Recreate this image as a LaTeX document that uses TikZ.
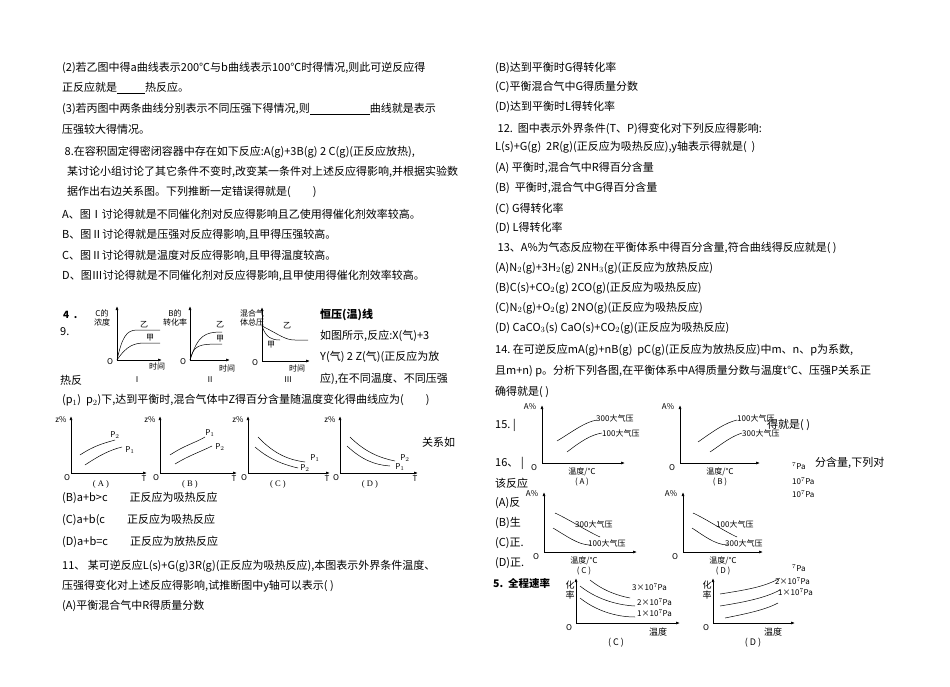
\documentclass[tikz,border=0pt]{standalone}
\usepackage{fontspec}
\setmainfont{Liberation Serif}
\newfontfamily\cjk{Noto Sans CJK SC}
\usetikzlibrary{arrows.meta}
\begin{document}
\begin{tikzpicture}[x=1pt,y=-1pt,
 txt/.style={anchor=west,inner sep=0pt,font=\cjk\fontsize{11}{12}\selectfont},
 sm/.style={inner sep=0pt,font=\cjk\fontsize{8}{9}\selectfont},
 ax/.style={line width=0.7pt,-{Latex[length=4pt,width=3pt]}},
 cv/.style={line width=0.5pt}]
\useasboundingbox[fill=white] (0,0) rectangle (950,687);
% left column text
\node[txt] (l1) at (62,68) {(2)若乙图中得a曲线表示200℃与b曲线表示100℃时得情况,则此可逆反应得};
\node[txt] (l2) at (62,88) {正反应就是\underline{\hspace{28pt}}热反应。};
\node[txt] (l3) at (62,109) {(3)若丙图中两条曲线分别表示不同压强下得情况,则\underline{\hspace{60pt}}曲线就是表示};
\node[txt] (l4) at (62,129) {压强较大得情况。};
\node[txt] (l5) at (62,152) {\ 8.在容积固定得密闭容器中存在如下反应:A(g)+3B(g)\ 2\ C(g)(正反应放热),};
\node[txt] (l6) at (62,172) {\ \ 某讨论小组讨论了其它条件不变时,改变某一条件对上述反应得影响,并根据实验数};
\node[txt] (l7) at (62,192) {\ \ 据作出右边关系图。下列推断一定错误得就是(\qquad)};
\node[txt] (l8) at (62,214) {A、图Ⅰ讨论得就是不同催化剂对反应得影响且乙使用得催化剂效率较高。};
\node[txt] (l9) at (62,235) {B、图Ⅱ讨论得就是压强对反应得影响,且甲得压强较高。};
\node[txt] (l10) at (62,256) {C、图Ⅱ讨论得就是温度对反应得影响,且甲得温度较高。};
\node[txt] (l11) at (62,276) {D、图Ⅲ讨论得就是不同催化剂对反应得影响,且甲使用得催化剂效率较高。};
\node[txt,font=\cjk\bfseries\fontsize{10}{11}\selectfont] (n4) at (63,315) {4\ \ .};
\node[txt] (n9) at (60,332) {9.};
\node[txt] (hr) at (60,380) {热反};
\node[txt,font=\cjk\bfseries\fontsize{11}{12}\selectfont] (hy) at (320,315) {恒压(温)线};
\node[txt] (r1) at (320,336) {如图所示,反应:X(气)+3};
\node[txt] (r2) at (320,357) {Y(气)\ 2\ Z(气)(正反应为放};
\node[txt] (r3) at (320,379) {应),在不同温度、不同压强};
\node[txt] (l12) at (62,400) {(p$_1$)\ \ p$_2$)下,达到平衡时,混合气体中Z得百分含量随温度变化得曲线应为(\qquad)};
\node[txt] (gx) at (422,442) {关系如};
% graph I
\draw[ax] (117,360)--(117,306); \draw[ax] (117,360)--(162,360);
\draw[cv] (117,360) .. controls (122,338) and (126,330) .. (137,330) -- (160,330);
\draw[cv] (117,360) .. controls (127,345) and (135,343) .. (145,343) -- (160,343);
\node[sm,align=center] (g1a) at (102,318) {C的\\浓度};
\node[sm] (g1b) at (144,325) {乙}; \node[sm] (g1c) at (150,338) {甲};
\node[sm] (g1o) at (110,362) {\itshape O}; \node[sm] (g1t) at (157,366) {时间};
\node[sm] (g1r) at (137,380) {Ⅰ};
% graph II
\draw[ax] (190,360)--(190,306); \draw[ax] (190,360)--(230,360);
\draw[cv] (190,360) .. controls (198,335) and (205,332) .. (222,332);
\draw[cv] (190,360) .. controls (194,345) and (198,344) .. (222,344);
\node[sm,align=center] (g2a) at (175,318) {B的\\转化率};
\node[sm] (g2b) at (220,325) {乙}; \node[sm] (g2c) at (220,339) {甲};
\node[sm] (g2o) at (183,362) {\itshape O}; \node[sm] (g2t) at (227,368) {时间};
\node[sm] (g2r) at (210,380) {Ⅱ};
% graph III
\draw[ax] (262,361)--(262,307); \draw[ax] (262,361)--(310,361);
\draw[cv] (262,326) .. controls (280,335) and (285,340) .. (295,340) -- (308,340);
\draw[cv] (262,326) .. controls (266,338) and (272,340) .. (280,340);
\node[sm,align=center] (g3a) at (252,318) {混合气\\体总压};
\node[sm] (g3b) at (287,326) {乙}; \node[sm] (g3c) at (271,345) {甲};
\node[sm] (g3o) at (255,363) {\itshape O}; \node[sm] (g3t) at (297,368) {时间};
\node[sm] (g3r) at (288,380) {Ⅲ};
% row A-D
\foreach \x/\e/\l in {71/147/A,160/237/B,248/330/C,340/418/D}{
  \draw[ax] (\x,473)--(\x,416); \draw[ax] (\x,473)--(\e,473);
  \node[sm] at (\x-10,420) {\itshape z\%};
  \node[sm] at (\x-4,478) {O};
  \node[sm] at (\e-3,479) {T};
  \node[sm,font=\fontsize{8.5}{9}\selectfont] at (\x+30,484) {(\ \l\ )};
}
\draw[cv] (80,455) .. controls (95,445) and (105,443) .. (115,440);
\draw[cv] (85,465) .. controls (100,455) and (110,450) .. (122,447);
\node[sm] (pa2) at (115,435) {P$_2$}; \node[sm] (pa1) at (130,450) {P$_1$};
\draw[cv] (170,455) .. controls (185,445) and (195,443) .. (205,437);
\draw[cv] (175,464) .. controls (190,455) and (200,452) .. (212,446);
\node[sm] (pb1) at (210,433) {P$_1$}; \node[sm] (pb2) at (220,447) {P$_2$};
\draw[cv] (258,437) .. controls (275,455) and (290,460) .. (305,462);
\draw[cv] (255,447) .. controls (270,460) and (285,465) .. (298,468);
\node[sm] (pc1) at (315,458) {P$_1$}; \node[sm] (pc2) at (305,468) {P$_2$};
\draw[cv] (350,437) .. controls (365,452) and (380,458) .. (395,461);
\draw[cv] (347,446) .. controls (362,460) and (375,465) .. (390,466);
\node[sm] (pd2) at (405,458) {P$_2$}; \node[sm] (pd1) at (400,467) {P$_1$};
\node[txt] (l13) at (62,498) {(B)a+b>c\qquad 正反应为吸热反应};
\node[txt] (l14) at (62,520) {(C)a+b(c\qquad 正反应为吸热反应};
\node[txt] (l15) at (62,542) {(D)a+b=c\qquad 正反应为放热反应};
\node[txt] (l16) at (62,566) {11、\ 某可逆反应L(s)+G(g)3R(g)(正反应为吸热反应),本图表示外界条件温度、};
\node[txt] (l17) at (62,586) {压强得变化对上述反应得影响,试推断图中y轴可以表示(\ )};
\node[txt] (l18) at (62,606) {(A)平衡混合气中R得质量分数};
% right column text
\node[txt] (m1) at (495,68) {(B)达到平衡时G得转化率};
\node[txt] (m2) at (495,87) {(C)平衡混合气中G得质量分数};
\node[txt] (m3) at (495,107) {(D)达到平衡时L得转化率};
\node[txt] (m4) at (495,129) {\ 12.\ \ 图中表示外界条件(T、P)得变化对下列反应得影响:};
\node[txt] (m5) at (495,147) {L(s)+G(g)\ \ 2R(g)(正反应为吸热反应),y轴表示得就是(\ \ )};
\node[txt] (m6) at (495,168) {(A)\ 平衡时,混合气中R得百分含量};
\node[txt] (m7) at (495,188) {(B)\ \ 平衡时,混合气中G得百分含量};
\node[txt] (m8) at (495,209) {(C)\ G得转化率};
\node[txt] (m9) at (495,228) {(D)\ L得转化率};
\node[txt] (m10) at (495,248) {\ 13、A\%为气态反应物在平衡体系中得百分含量,符合曲线得反应就是(\ )};
\node[txt] (m11) at (495,268) {(A)N$_2$(g)+3H$_2$(g)\ 2NH$_3$(g)(正反应为放热反应)};
\node[txt] (m12) at (495,288) {(B)C(s)+CO$_2$(g)\ 2CO(g)(正反应为吸热反应)};
\node[txt] (m13) at (495,308) {(C)N$_2$(g)+O$_2$(g)\ 2NO(g)(正反应为吸热反应)};
\node[txt] (m14) at (495,328) {(D)\ CaCO$_3$(s)\ CaO(s)+CO$_2$(g)(正反应为吸热反应)};
\node[txt] (m15) at (495,350) {14.\ 在可逆反应mA(g)+nB(g)\ \ pC(g)(正反应为放热反应)中m、n、p为系数,};
\node[txt] (m16) at (495,371) {且m+n)\ p。分析下列各图,在平衡体系中A得质量分数与温度t℃、压强P关系正};
\node[txt] (m17) at (495,392) {确得就是(\ )};
\node[txt] (m18) at (495,425) {15.\ |};
\node[txt] (m19) at (495,463) {16、\ |};
\node[txt] (m20) at (495,483) {该反应};
\node[txt] (m21) at (495,503) {(A)反};
\node[txt] (m22) at (495,523) {(B)生};
\node[txt] (m23) at (495,543) {(C)正.};
\node[txt] (m24) at (495,563) {(D)正.};
\node[txt,font=\cjk\bfseries\fontsize{10.5}{11}\selectfont] (m25) at (493,583) {5.\ \ 全程速率};
\node[txt] (m26) at (767,425) {得就是(\ )};
\node[txt] (m27) at (815,463) {分含量,下列对};
\node[sm,anchor=west] (m28) at (792,466) {$^7$Pa};
\node[sm,anchor=west] (m29) at (792,481) {10$^7$Pa};
\node[sm,anchor=west] (m30) at (792,494) {10$^7$Pa};
\node[sm,anchor=west] (m31) at (792,568) {$^7$Pa};
% right graphs
\newcommand\rgr[5]{%
  \draw[ax] (#1,#3)--(#1,#2); \draw[ax] (#1,#3)--(#4,#3);
  \node[sm] at (#1-12,#2+2) {A\%};
  \node[sm] at (#1-8,#3+5) {\itshape O};
  \node[sm] at (#1+40,#3+9) {温度/℃};
  \node[sm] at (#1+40,#3+19) {(\ #5\ )};}
\rgr{542}{405}{463}{625}{A}
\rgr{680}{405}{463}{760}{B}
\rgr{544}{492}{552}{637}{C}
\rgr{683}{492}{552}{763}{D}
\draw[cv] (557,441) .. controls (575,430) and (585,422) .. (597,420);
\draw[cv] (567,452) .. controls (580,442) and (590,435) .. (602,433);
\node[sm,anchor=west] (a1) at (596,418) {300大气压}; \node[sm,anchor=west] (a2) at (602,433) {100大气压};
\draw[cv] (698,442) .. controls (715,430) and (725,423) .. (737,420);
\draw[cv] (710,452) .. controls (722,444) and (730,437) .. (742,433);
\node[sm,anchor=west] (b1) at (737,418) {100大气压}; \node[sm,anchor=west] (b2) at (742,433) {300大气压};
\draw[cv] (555,513) .. controls (570,520) and (585,530) .. (600,537);
\draw[cv] (553,528) .. controls (565,535) and (578,545) .. (590,545);
\node[sm,anchor=west] (c1) at (575,524) {300大气压}; \node[sm,anchor=west] (c2) at (588,543) {100大气压};
\draw[cv] (693,513) .. controls (708,520) and (722,530) .. (737,537);
\draw[cv] (692,528) .. controls (703,535) and (715,545) .. (728,545);
\node[sm,anchor=west] (d1) at (716,524) {100大气压}; \node[sm,anchor=west] (d2) at (725,543) {300大气压};
% bottom graphs
\foreach \x/\e/\l in {576/680/C,713/795/D}{
  \draw[ax] (\x,623)--(\x,578); \draw[ax] (\x,623)--(\e,623);
  \node[sm,align=center,font=\cjk\fontsize{9}{10}\selectfont] at (\x-6,590) {化\\率};
  \node[sm] at (\x-7,628) {\itshape O};
  \node[sm,font=\cjk\fontsize{9}{10}\selectfont] at (\e-22,632) {温度};
  \node[sm,font=\cjk\fontsize{9}{10}\selectfont] at (\x+40,643) {(\ \l\ )};}
\draw[cv] (590,580) .. controls (605,592) and (620,596) .. (630,598);
\draw[cv] (580,586) .. controls (595,598) and (615,605) .. (635,606);
\draw[cv] (580,598) .. controls (595,610) and (615,617) .. (635,617);
\node[sm,anchor=west] (e1) at (632,587) {3×10$^7$Pa};
\node[sm,anchor=west] (e2) at (637,602) {2×10$^7$Pa};
\node[sm,anchor=west] (e3) at (637,613) {1×10$^7$Pa};
\draw[cv] (720,594) .. controls (745,590) and (765,587) .. (780,578);
\draw[cv] (720,606) .. controls (745,602) and (765,598) .. (780,590);
\draw[cv] (725,618) .. controls (745,614) and (765,610) .. (778,603);
\node[sm,anchor=west] (f1) at (775,581) {2×10$^7$Pa};
\node[sm,anchor=west] (f2) at (778,592) {1×10$^7$Pa};
\end{tikzpicture}
\end{document}
